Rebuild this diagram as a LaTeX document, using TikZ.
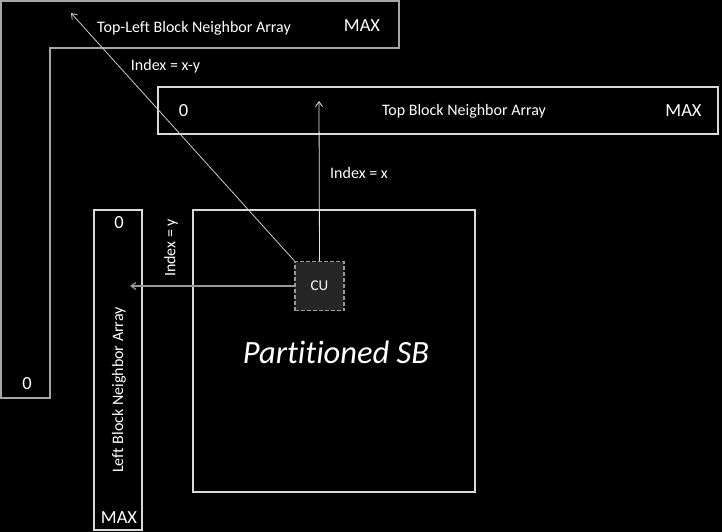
\documentclass[tikz,border=0pt]{standalone}
\usepackage{fontspec}
\setmainfont[Ligatures=NoCommon]{Carlito}
\usetikzlibrary{arrows.meta}
\begin{document}
\begin{tikzpicture}[x=1pt,y=-1pt,
  box/.style={draw=white!85!black,line width=1.2pt},
  lbl/.style={text=white,inner sep=0pt,font=\fontsize{16}{18}\selectfont},
  big/.style={text=white,inner sep=0pt,font=\fontsize{18.5}{21}\selectfont},
  arr/.style={draw=white!90!black,line width=0.8pt,-{Straight Barb[length=5pt,width=7pt]}}]
\fill[black] (0,0) rectangle (722,532);
\useasboundingbox (0,0) rectangle (722,532);
% L-shaped top-left array
\draw[draw=white!65!black,line width=1.5pt] (1,1) -- (399,1) -- (399,48) -- (50,48) -- (50,398) -- (1,398) -- cycle;
% top array
\node[box,minimum width=560pt,minimum height=47pt,inner sep=0pt] (top) at (438,110.5) {};
% left array
\node[box,minimum width=48pt,minimum height=320pt,inner sep=0pt] (left) at (118,370) {};
% partitioned SB
\node[box,minimum width=282pt,minimum height=282pt,inner sep=0pt] (sb) at (334,351) {};
\node[text=white,inner sep=0pt,font=\fontsize{32.5}{36}\selectfont\itshape] (sbl) at (336,352) {Partitioned SB};
% CU
\node[draw=white!60!black,fill=white!15!black,dashed,dash pattern=on 4pt off 2pt,line width=1.2pt,minimum width=49pt,minimum height=49pt,inner sep=0pt,text=white,font=\fontsize{15}{17}\selectfont] (cu) at (319.5,286) {CU};
% labels
\node[lbl] (tll) at (194,28) {Top-Left Block Neighbor Array};
\node[big] (tlmax) at (362,26) {MAX};
\node[big] (tl0) at (27,384) {0};
\node[lbl] (ixy) at (165.5,66) {Index = x-y};
\node[big] (t0) at (183.5,111) {0};
\node[lbl] (tl) at (464,111) {Top Block Neighbor Array};
\node[big] (tmax) at (683.5,111) {MAX};
\node[lbl] (ix) at (359,173) {Index = x};
\node[big] (l0) at (119,223) {0};
\node[lbl,rotate=90] (iy) at (171,248) {Index = y};
\node[lbl,rotate=90] (ll) at (119,390) {Left Block Neighbor Array};
\node[big] (lmax) at (119,518) {MAX};
% arrow targets
\coordinate (atop) at (319,101);
\coordinate (atl) at (71,13);
\coordinate (aleft) at (130,286);
\draw[arr] (cu.north) -- (atop);
\draw[arr,draw=white!80!black] (cu.north west) -- (atl);
\draw[arr,draw=white!60!black,line width=1.2pt] (cu.west) -- (aleft);
\end{tikzpicture}
\end{document}
